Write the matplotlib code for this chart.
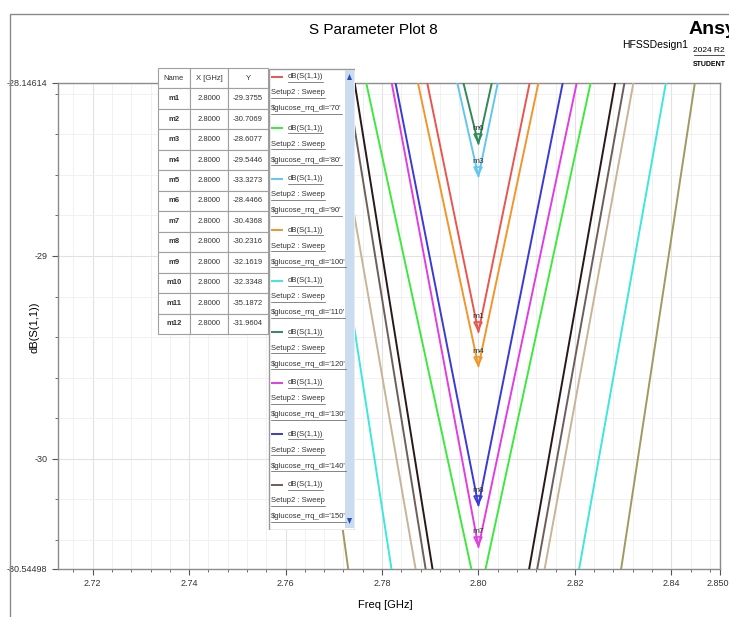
import numpy as np
import matplotlib.pyplot as plt
from matplotlib.patches import Rectangle, Polygon
from matplotlib.ticker import MultipleLocator, FixedLocator

plt.rcParams['font.family'] = ['Liberation Sans Narrow', 'Liberation Sans', 'DejaVu Sans']

# sweep points (GHz) - coarse sweep, so every trace is a V between these
freq = [2.70, 2.80, 2.90]

rq_dl = ['70', '80', '90', '100', '110', '120', '130', '140', '150', '160', '170', '180']
marker_names = ['m1', 'm2', 'm3', 'm4', 'm5', 'm6', 'm7', 'm8', 'm9', 'm10', 'm11', 'm12']
marker_x = 2.80
marker_y = [-29.3755, -30.7069, -28.6077, -29.5446, -33.3273, -28.4466,
            -30.4368, -30.2316, -32.1619, -32.3348, -35.1872, -31.9604]
# dB at the outer sweep points
db_left = [-17.8, -19.7, -18.1, -18.4, -17.9, -18.8, -17.7, -18.1, -17.4, -18.6, -18.0, -17.1]
db_right = [-17.8, -19.7, -17.1, -18.3, -20.0, -17.6, -19.2, -18.3, -18.9, -19.3, -19.5, -18.5]

colors = ['#e8564e', '#3ee83e', '#62c6f0', '#f0962a', '#3ee6dc', '#2e8b57',
          '#e03ee0', '#3a3ad6', '#6e5e5a', '#c8b496', '#a09a60', '#2a1818']

ymin, ymax = -30.54498, -28.14614
xmin, xmax = 2.7128, 2.8501

W, H = 729, 617
fig = plt.figure(figsize=(W / 100, H / 100), dpi=100)

# outer frame of the report window
fig.add_artist(Rectangle((10 / W, -0.1), 1.0, 1.1 - 14 / H, transform=fig.transFigure,
                         fill=False, ec='#8a8a8a', lw=1.0))

ax = fig.add_axes([58 / W, 48 / H, 662 / W, 486 / H])
for i in range(len(marker_y)):
    ax.plot(freq, [db_left[i], marker_y[i], db_right[i]], color=colors[i], lw=1.4, zorder=3)

# markers that fall inside the view
for i, name in enumerate(marker_names):
    y = marker_y[i]
    if ymin < y < ymax:
        ax.plot(marker_x, y + 0.028, marker='v', ms=6, mfc='none', mec=colors[i], mew=1.2, zorder=4)
        ax.text(marker_x, y + 0.075, name, fontsize=6, color='#333333', ha='center', va='center',
                zorder=5)

ax.set_xlim(xmin, xmax)
ax.set_ylim(ymin, ymax)
xt = [2.72, 2.74, 2.76, 2.78, 2.80, 2.82, 2.84, 2.8501]
ax.xaxis.set_major_locator(FixedLocator(xt))
ax.set_xticklabels(['2.72', '2.74', '2.76', '2.78', '2.80', '2.82', '2.84', '2.8501'])
ax.xaxis.set_minor_locator(MultipleLocator(0.004))
yt = [ymin, -30, -29, ymax]
ax.yaxis.set_major_locator(FixedLocator(yt))
ax.set_yticklabels(['-30.54498', '-30', '-29', '-28.14614'])
ax.yaxis.set_minor_locator(MultipleLocator(0.2))
ax.tick_params(which='both', labelsize=6.5, colors='#555555', labelcolor='#333333')
ax.tick_params(which='major', length=4)
ax.tick_params(which='minor', length=2)
ax.grid(which='major', color='#e2e2e2', lw=0.8)
ax.grid(which='minor', color='#efefef', lw=0.6)
ax.set_axisbelow(True)
for s in ax.spines.values():
    s.set_color('#8c8c8c')
    s.set_linewidth(1.0)

fig.text(373 / W, 1 - 30 / H, 'S Parameter Plot 8', ha='center', va='center', fontsize=11)
fig.text(655 / W, 1 - 45 / H, 'HFSSDesign1', ha='center', va='center', fontsize=7.5)
fig.text(689 / W, 1 - 30 / H, 'Ansys', ha='left', va='center', fontsize=14, fontweight='bold')
fig.text(709 / W, 1 - 50 / H, '2024 R2', ha='center', va='center', fontsize=6)
fig.add_artist(plt.Line2D([694 / W, 724 / W], [1 - 55 / H, 1 - 55 / H], color='#333333', lw=0.6))
fig.text(709 / W, 1 - 64 / H, 'STUDENT', ha='center', va='center', fontsize=5, fontweight='bold')
fig.text(385 / W, 1 - 605 / H, 'Freq [GHz]', ha='center', va='center', fontsize=8)
fig.text(35 / W, 1 - 327 / H, 'dB(S(1,1))', ha='center', va='center', fontsize=8, rotation=90)

# marker table
tax = fig.add_axes([158 / W, (H - 334) / H, 110 / W, 266 / H])
tax.axis('off')
rows = [[marker_names[i], '%.4f' % marker_x, '%.4f' % marker_y[i]] for i in range(len(marker_y))]
tbl = tax.table(cellText=rows, colLabels=['Name', 'X [GHz]', 'Y'], cellLoc='center',
                colWidths=[0.29, 0.345, 0.365], bbox=[0, 0, 1, 1])
tbl.auto_set_font_size(False)
for (r, c), cell in tbl.get_celld().items():
    cell.set_edgecolor('#a0a0a0')
    cell.set_linewidth(0.8)
    cell.set_facecolor('white')
    cell.get_text().set_fontsize(5.5)
    cell.get_text().set_color('#333333')
    if c == 0 and r > 0:
        cell.get_text().set_fontweight('bold')

# legend panel with scroll bar
lax = fig.add_axes([268 / W, (H - 530) / H, 87 / W, 462 / H])
lax.set_xlim(0, 87)
lax.set_ylim(462, 0)
lax.axis('off')
lax.add_patch(Rectangle((0.5, 0.5), 86, 461, fill=True, fc='white', ec='#9a9a9a', lw=1.0))
lax.add_patch(Rectangle((77, 2), 9, 458, fc='#c9dcf0', ec='none'))
lax.add_patch(Polygon([[79, 12], [84, 12], [81.5, 6]], fc='#2a4cb0', ec='none'))
lax.add_patch(Polygon([[79, 450], [84, 450], [81.5, 456]], fc='#2a4cb0', ec='none'))
fig.canvas.draw()
rend = fig.canvas.get_renderer()
inv = lax.transData.inverted()
for i in range(9):
    y0 = 9 + i * 51
    lax.plot([4, 14], [y0, y0], color=colors[i], lw=1.4)
    texts = [(20, y0, 'dB(S(1,1))'), (3, y0 + 16, 'Setup2 : Sweep'),
             (3, y0 + 32, "$glucose_rrq_dl='" + rq_dl[i] + "'")]
    for tx, ty, s in texts:
        t = lax.text(tx, ty, s, fontsize=5.5, color='#333333', va='center', ha='left')
        bb = t.get_window_extent(rend)
        (x0, _), (x1, _) = inv.transform([[bb.x0, bb.y0], [bb.x1, bb.y0]])
        lax.plot([x0, x1], [ty + 5, ty + 5], color='#555555', lw=0.5)

fig.savefig('out.png', dpi=100)
